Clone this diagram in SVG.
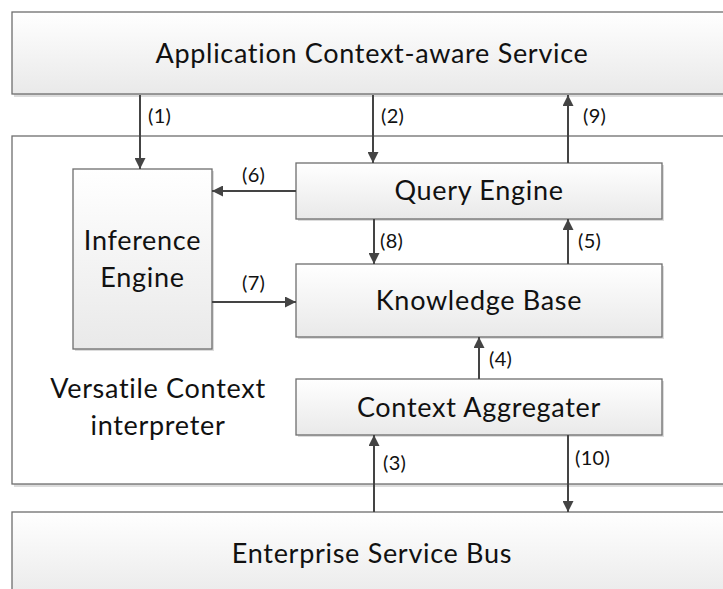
<svg xmlns="http://www.w3.org/2000/svg" width="723" height="589" viewBox="0 0 723 589">
<style>
.box{stroke:#6e6e6e;stroke-width:1.3;fill:url(#g)}
.shadow{fill:#dcdcdc}
.big{font-family:Lato,"Open Sans",sans-serif;font-size:27px;letter-spacing:0.7px;fill:#111;text-anchor:middle}
.lbl{font-family:Lato,"Open Sans",sans-serif;font-size:20px;letter-spacing:0.3px;fill:#111}
.ln{stroke:#444;stroke-width:2;fill:none;marker-end:url(#ah)}
</style>
<defs>
<linearGradient id="g" x1="0" y1="0" x2="0" y2="1">
<stop offset="0" stop-color="#ffffff"/>
<stop offset="1" stop-color="#e9e9e9"/>
</linearGradient>
<marker id="ah" viewBox="0 0 10 10" refX="10" refY="5" markerWidth="5.5" markerHeight="5.5" orient="auto" markerUnits="strokeWidth">
<path d="M0,0 L10,5 L0,10 z" fill="#444"/>
</marker>
</defs>
<rect width="723" height="589" fill="#fff"/>
<g id="app">
<rect class="shadow" x="14" y="14" width="730" height="83"/>
<rect class="box" x="12" y="12" width="730" height="82"/>
<text class="big" x="372" y="63">Application Context-aware Service</text>
</g>
<g id="vci">
<rect class="shadow" x="14" y="138" width="730" height="349"/>
<rect x="12" y="136" width="730" height="348" fill="#fff" stroke="#6e6e6e" stroke-width="1.3"/>
<text class="big" x="158" y="398">Versatile Context</text>
<text class="big" x="158" y="435">interpreter</text>
</g>
<g id="esb">
<rect class="shadow" x="14" y="514" width="730" height="90"/>
<rect class="box" x="12" y="512" width="730" height="90"/>
<text class="big" x="372" y="563">Enterprise Service Bus</text>
</g>
<g id="inference">
<rect class="shadow" x="75" y="171" width="139" height="180"/>
<rect class="box" x="73" y="169" width="139" height="180"/>
<text class="big" x="142.5" y="250">Inference</text>
<text class="big" x="142.5" y="287">Engine</text>
</g>
<g id="query">
<rect class="shadow" x="298" y="165" width="366" height="56"/>
<rect class="box" x="296" y="163" width="366" height="56"/>
<text class="big" x="479" y="200">Query Engine</text>
</g>
<g id="kb">
<rect class="shadow" x="298" y="266" width="366" height="73"/>
<rect class="box" x="296" y="264" width="366" height="73"/>
<text class="big" x="479" y="310">Knowledge Base</text>
</g>
<g id="agg">
<rect class="shadow" x="298" y="381" width="366" height="56"/>
<rect class="box" x="296" y="379" width="366" height="56"/>
<text class="big" x="479" y="417">Context Aggregater</text>
</g>
<g id="connectors">
<line class="ln" x1="140" y1="95" x2="140" y2="169"/>
<line class="ln" x1="373" y1="95" x2="373" y2="163"/>
<line class="ln" x1="568" y1="163" x2="568" y2="95"/>
<line class="ln" x1="296" y1="191" x2="212" y2="191"/>
<line class="ln" x1="212" y1="302" x2="296" y2="302"/>
<line class="ln" x1="374" y1="219" x2="374" y2="264"/>
<line class="ln" x1="568" y1="264" x2="568" y2="219"/>
<line class="ln" x1="479" y1="379" x2="479" y2="337"/>
<line class="ln" x1="374" y1="512" x2="374" y2="435"/>
<line class="ln" x1="568" y1="435" x2="568" y2="512"/>
<text class="lbl" x="148" y="123">(1)</text>
<text class="lbl" x="381" y="123">(2)</text>
<text class="lbl" x="583" y="123">(9)</text>
<text class="lbl" x="242" y="182">(6)</text>
<text class="lbl" x="242" y="290">(7)</text>
<text class="lbl" x="380" y="248">(8)</text>
<text class="lbl" x="578" y="248">(5)</text>
<text class="lbl" x="489" y="366">(4)</text>
<text class="lbl" x="383" y="470">(3)</text>
<text class="lbl" x="575" y="465">(10)</text>
</g>
</svg>
